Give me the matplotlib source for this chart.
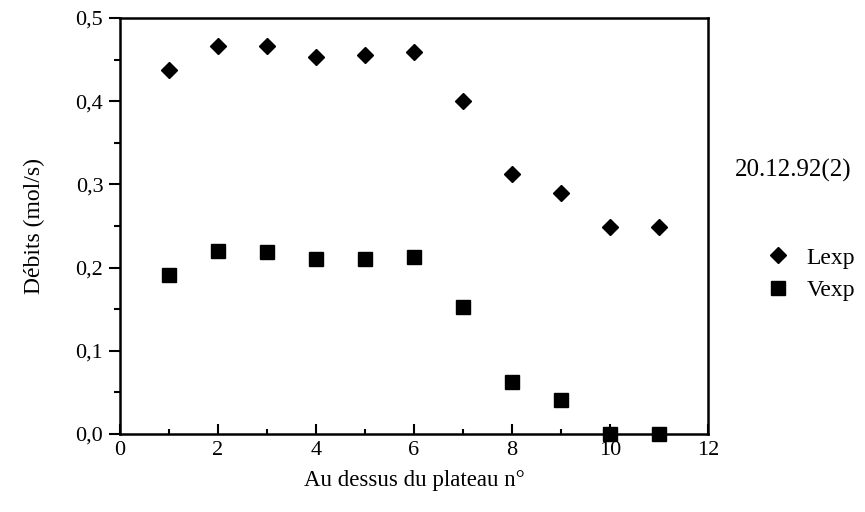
import matplotlib
matplotlib.use("Agg")
import matplotlib.pyplot as plt
from matplotlib.lines import Line2D
from matplotlib.ticker import MultipleLocator, FuncFormatter

plt.rcParams["font.family"] = "Liberation Serif"

# plateau numbers and measured flows (mol/s)
plateau = [1, 2, 3, 4, 5, 6, 7, 8, 9, 10, 11]
lexp = [0.437, 0.466, 0.466, 0.453, 0.456, 0.459, 0.400, 0.312, 0.290, 0.249, 0.249]
vexp = [0.191, 0.220, 0.219, 0.210, 0.210, 0.213, 0.153, 0.063, 0.041, 0.0, 0.0]

fig = plt.figure(figsize=(8.65, 5.12), dpi=100)
ax = fig.add_axes([120/865, 1 - 434/512, (708 - 120)/865, (434 - 18)/512])

ax.plot(plateau, lexp, linestyle="none", marker="D", markersize=7.8,
        color="black", clip_on=False)
ax.plot(plateau, vexp, linestyle="none", marker="s", markersize=9.8,
        color="black", clip_on=False)

ax.set_xlim(0, 12)
ax.set_ylim(0, 0.5)
ax.xaxis.set_major_locator(MultipleLocator(2))
ax.xaxis.set_minor_locator(MultipleLocator(1))
ax.yaxis.set_major_locator(MultipleLocator(0.1))
ax.yaxis.set_minor_locator(MultipleLocator(0.05))
ax.yaxis.set_major_formatter(FuncFormatter(lambda v, p: f"{v:.1f}".replace(".", ",")))

ax.tick_params(axis="x", which="major", direction="in", length=7, width=1.5, labelsize=16, pad=5)
ax.tick_params(axis="x", which="minor", direction="in", length=3.5, width=1.5)
ax.tick_params(axis="y", which="major", direction="out", length=8, width=1.5, labelsize=16, pad=4)
ax.tick_params(axis="y", which="minor", direction="out", length=4.5, width=1.5)
for s in ax.spines.values():
    s.set_linewidth(1.8)

ax.set_xlabel("Au dessus du plateau n°", fontsize=16.5, labelpad=7)
ax.set_ylabel("Débits (mol/s)", fontsize=17, labelpad=22)

fig.text(735/865, 1 - 170/512, "20.12.92(2)", fontsize=18, va="center", ha="left")
handles = [Line2D([], [], linestyle="none", marker="D", markersize=7.8, color="black"),
           Line2D([], [], linestyle="none", marker="s", markersize=9.8, color="black")]
fig.legend(handles, ["Lexp", "Vexp"], loc="center left",
           bbox_to_anchor=(745/865, 1 - 274/512), frameon=False, fontsize=17,
           handlelength=1.0, handletextpad=0.7, labelspacing=0.45)

fig.savefig("out.png", dpi=100)
